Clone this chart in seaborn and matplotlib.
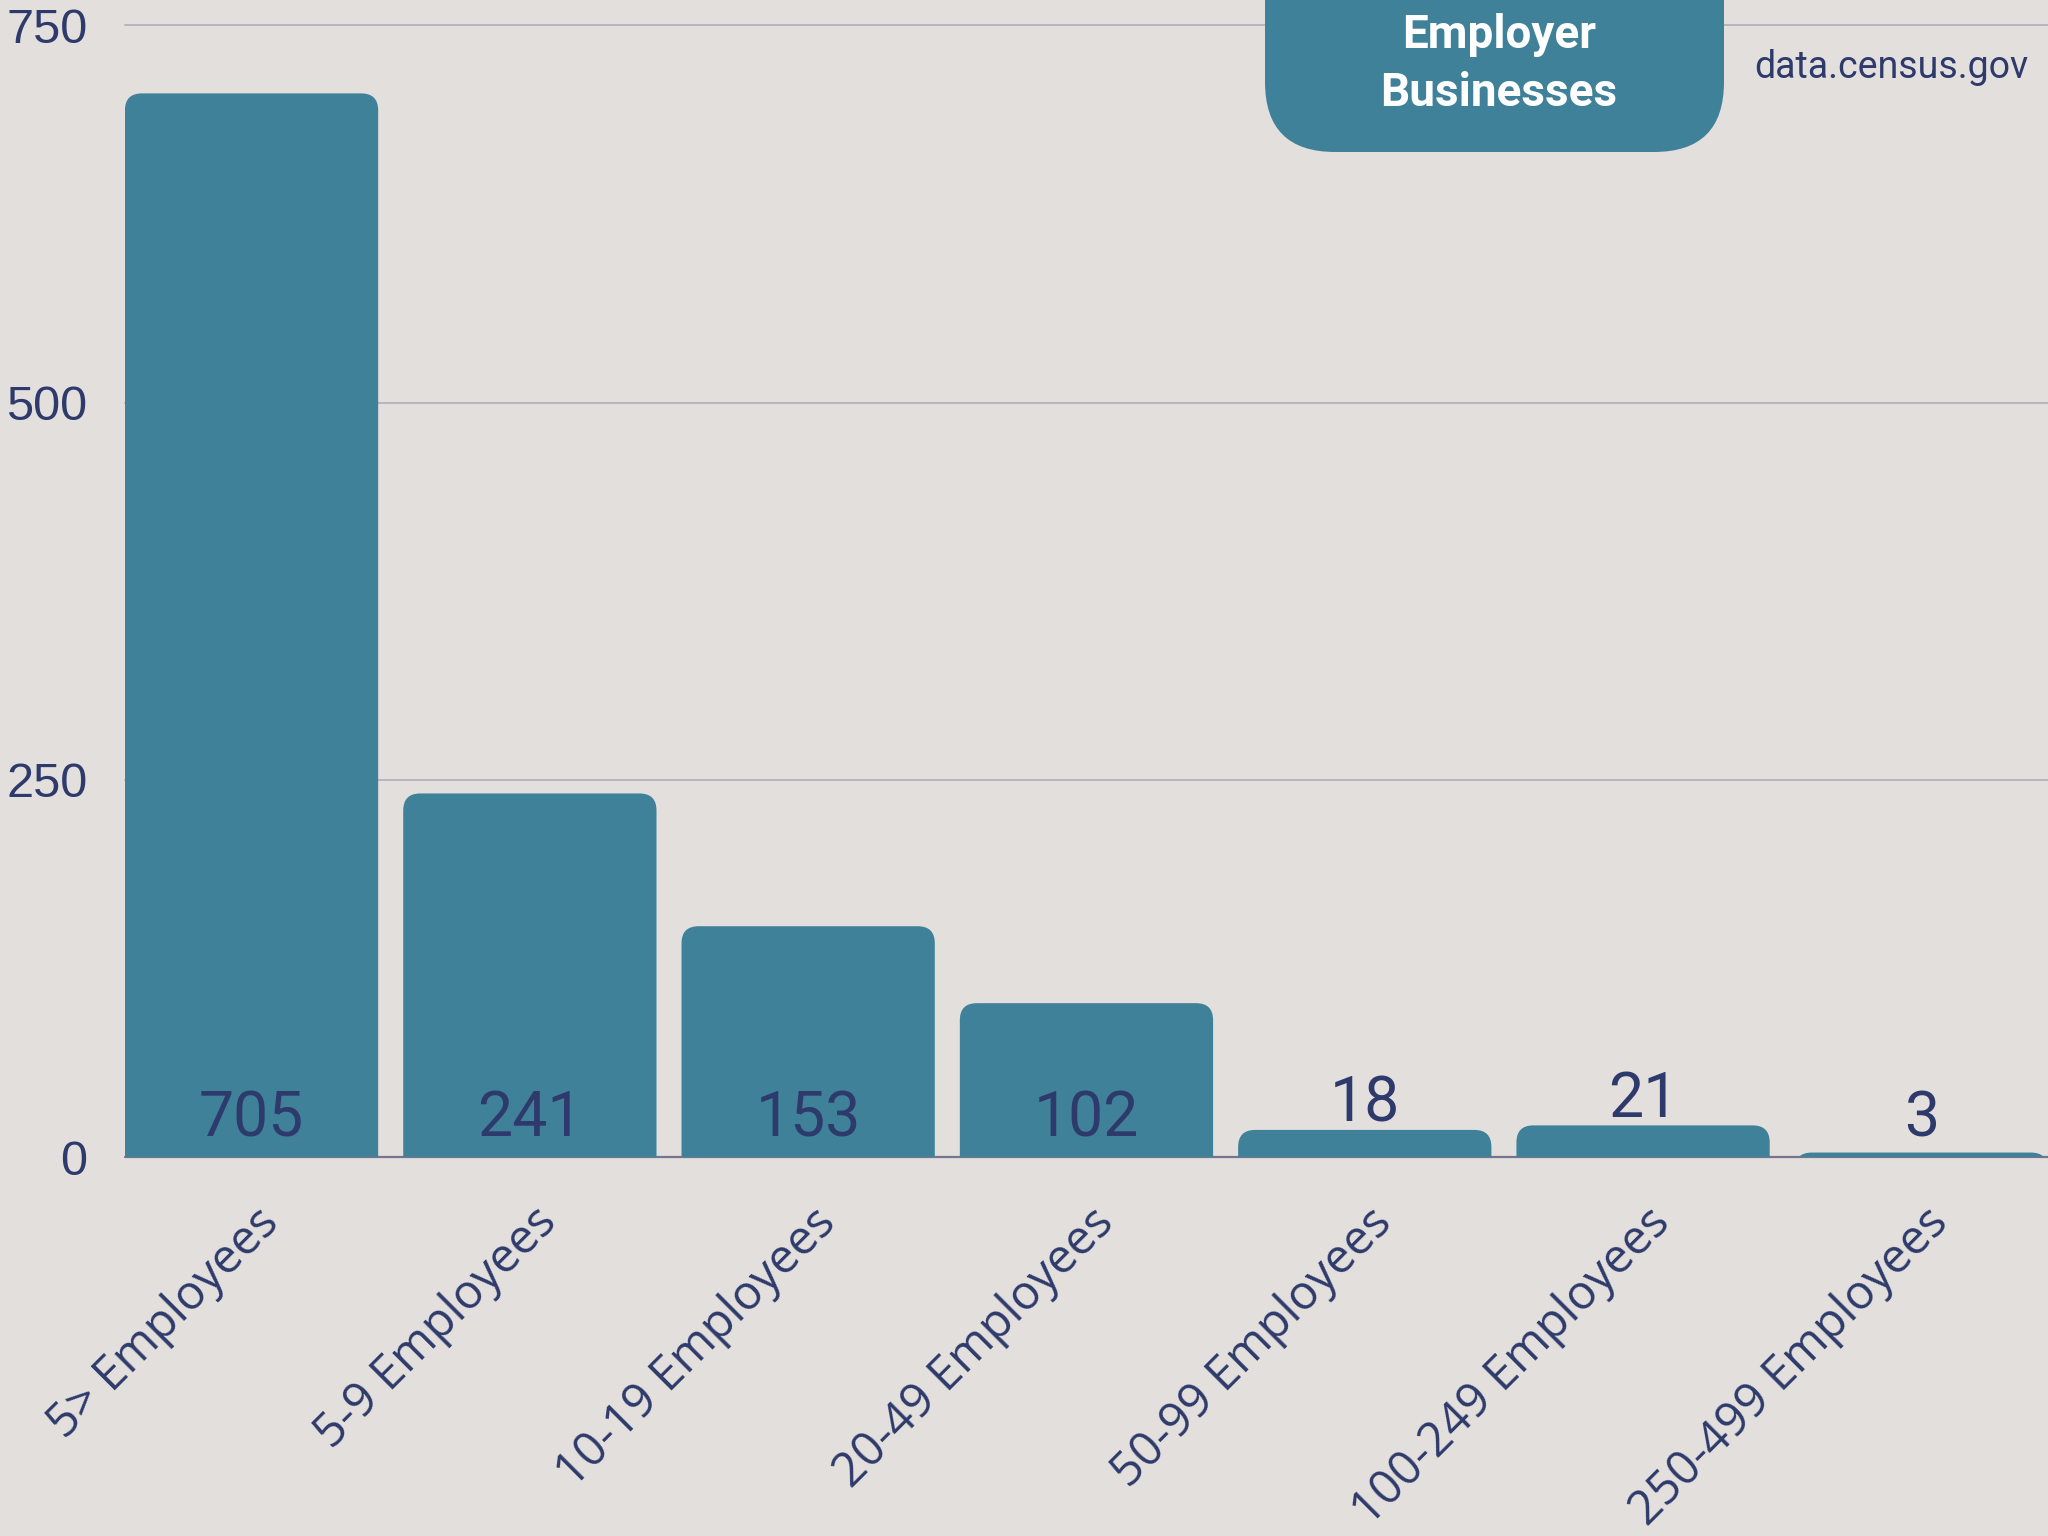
import matplotlib
matplotlib.use("Agg")
import matplotlib.pyplot as plt
import pandas as pd
import seaborn as sns
from matplotlib.patches import FancyBboxPatch
from matplotlib.transforms import ScaledTranslation, IdentityTransform

# data
categories = ["5> Employees", "5-9 Employees", "10-19 Employees", "20-49 Employees",
              "50-99 Employees", "100-249 Employees", "250-499 Employees"]
values = [705, 241, 153, 102, 18, 21, 3]
y_ticks = [0, 250, 500, 750]
title_text = "Employer\nBusinesses"
source_text = "data.census.gov"

bg = "#e3dfdc"
bar_color = "#3e8199"
ink = "#2d3a6b"
grid_color = "#b6b4c1"

sns.set_theme(style="white")
plt.rcParams["font.family"] = ["Roboto", "DejaVu Sans"]

df = pd.DataFrame({"size": categories, "count": values})

fig = plt.figure(figsize=(20.48, 15.36), dpi=100, facecolor=bg)
ax = fig.add_axes([0.061, 0.2467, 0.939, 0.7367])
ax.set_facecolor(bg)

sns.barplot(data=df, x="size", y="count", color=bar_color, saturation=1,
            width=0.91, ax=ax)
ax.set_xlim(-0.455, 6.455)
ax.set_ylim(0, 750)

# swap the square bars for ones with rounded tops
px_x = ax.transData.transform((1, 0))[0] - ax.transData.transform((0, 0))[0]
px_y = ax.transData.transform((0, 1))[1] - ax.transData.transform((0, 0))[1]
r_px = 17
r_x = r_px / px_x
r_y = r_px / px_y
for p in list(ax.patches):
    x, w, h = p.get_x(), p.get_width(), p.get_height()
    p.remove()
    ax.add_patch(FancyBboxPatch((x, -3 * r_y), w, h + 3 * r_y,
                                boxstyle=f"round,pad=0,rounding_size={r_x}",
                                mutation_aspect=r_y / r_x,
                                fc=bar_color, ec="none", zorder=3))
ax.set_xlim(-0.455, 6.455)
ax.set_ylim(0, 750)

# grid and baseline
for y in y_ticks[1:]:
    ax.axhline(y, color=grid_color, lw=1.4, zorder=1, clip_on=False)
ax.axhline(0, color="#76758f", lw=1.6, zorder=2, clip_on=False)

sns.despine(ax=ax, left=True, bottom=True)
ax.set_xlabel("")
ax.set_ylabel("")

# value labels
for i, v in enumerate(values):
    y = 25 if v > 40 else max(25, v + 17)
    ax.text(i, y, str(v), ha="center", va="center", fontsize=45,
            color=ink, zorder=4)

# y ticks
ax.set_yticks(y_ticks)
ax.set_yticklabels([str(t) for t in y_ticks], family=["Liberation Sans", "DejaVu Sans"])
ax.tick_params(axis="y", length=0, pad=27, labelsize=35, labelcolor=ink)

# x ticks, rotated
ax.set_xticks(range(len(categories)))
ax.set_xticklabels(categories, rotation=45, ha="right", va="center",
                   rotation_mode="anchor", family=["Open Sans", "DejaVu Sans"])
ax.tick_params(axis="x", length=0, pad=42, labelsize=34, labelcolor=ink)
shift = ScaledTranslation(0.2, 0, fig.dpi_scale_trans)
for lbl in ax.get_xticklabels():
    lbl.set_transform(lbl.get_transform() + shift)

# title badge hanging from the top edge
W, H = 2048, 1536
badge = FancyBboxPatch((1265, H - 152), 459, 260,
                       boxstyle="round,pad=0,rounding_size=70",
                       fc=bar_color, ec="none", transform=IdentityTransform(),
                       zorder=5)
fig.add_artist(badge)
fig.text(1499 / W, 1 - 64 / H, title_text, ha="center", va="center",
         fontsize=33, fontweight="bold", color="white", linespacing=1.42,
         zorder=6)
fig.text(2028 / W, 1 - 67 / H, source_text, ha="right", va="center",
         fontsize=27, color=ink)

fig.savefig("out.png", dpi=100, facecolor=bg)
